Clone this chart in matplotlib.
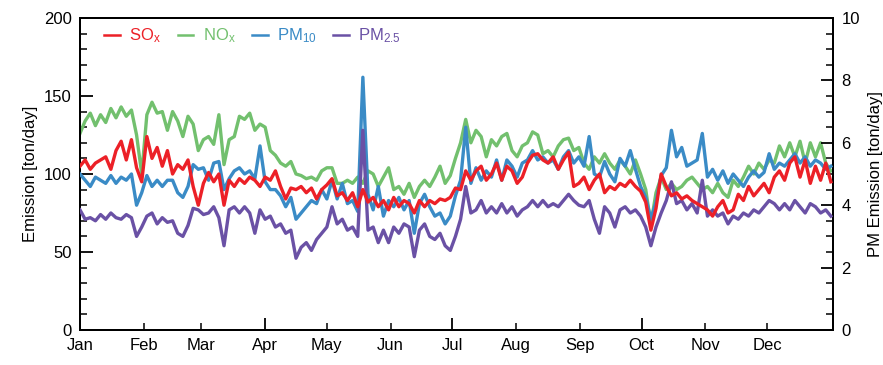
import numpy as np
import matplotlib.pyplot as plt
from matplotlib.ticker import MultipleLocator

plt.rcParams['font.family'] = ['Liberation Sans', 'DejaVu Sans']
plt.rcParams['mathtext.default'] = 'regular'

# daily emissions sampled every 2.5 days from 1 January
step = 2.5

sox = [105, 109, 103, 107, 109, 111, 103, 115, 121, 109, 122, 104, 95, 124, 110, 117, 105, 115, 100, 106,
       103, 109, 92, 80, 94, 101, 95, 100, 80, 96, 92, 97, 94, 98, 96, 92, 98, 96, 102, 92,
       84, 91, 90, 92, 88, 91, 84, 90, 93, 97, 86, 88, 83, 88, 79, 90, 82, 85, 79, 83,
       77, 85, 79, 83, 81, 75, 83, 79, 83, 81, 84, 83, 85, 91, 90, 102, 96, 102, 105, 96,
       100, 107, 96, 105, 102, 94, 98, 107, 112, 113, 109, 107, 111, 103, 109, 114, 92, 94, 98, 90,
       96, 100, 88, 92, 90, 94, 92, 96, 92, 89, 82, 64, 78, 100, 92, 86, 88, 84, 86, 83,
       81, 79, 77, 73, 79, 83, 75, 77, 87, 83, 92, 86, 90, 94, 88, 98, 102, 96, 107, 111,
       98, 109, 94, 105, 96, 107, 95]

nox = [126, 134, 139, 131, 138, 133, 142, 136, 143, 137, 141, 125, 100, 138, 146, 139, 140, 128, 140, 134,
       124, 137, 132, 115, 122, 124, 119, 138, 106, 122, 124, 137, 135, 139, 128, 132, 130, 115, 112, 107,
       105, 108, 100, 99, 97, 98, 96, 102, 104, 104, 94, 94, 96, 94, 98, 94, 102, 100, 92, 98,
       104, 90, 92, 87, 94, 85, 92, 96, 92, 98, 105, 94, 99, 110, 120, 135, 120, 128, 124, 111,
       122, 118, 124, 126, 115, 111, 118, 120, 127, 125, 113, 115, 111, 118, 122, 123, 115, 117, 107, 103,
       111, 107, 113, 107, 103, 109, 105, 100, 109, 100, 90, 68, 88, 98, 90, 94, 90, 92, 96, 98,
       94, 90, 92, 88, 94, 88, 85, 96, 92, 98, 105, 100, 107, 103, 109, 107, 118, 111, 120, 111,
       121, 107, 120, 111, 120, 107, 102]

pm10 = [5.00, 4.80, 4.60, 4.90, 4.80, 4.70, 4.95, 4.70, 4.90, 4.80, 5.00, 4.00, 4.40, 4.95, 4.60, 4.80, 4.60, 4.80, 4.80, 4.40,
        4.25, 4.60, 5.30, 5.15, 5.20, 4.80, 5.35, 5.40, 4.50, 4.85, 5.10, 5.20, 5.00, 5.10, 4.85, 5.90, 4.75, 4.50, 4.50, 4.30,
        3.95, 4.25, 3.55, 3.75, 3.95, 4.15, 4.05, 4.50, 4.20, 4.80, 4.20, 4.70, 4.05, 4.15, 3.80, 8.10, 4.35, 3.85, 4.60, 3.65,
        4.15, 3.95, 4.25, 3.85, 4.15, 3.10, 4.05, 4.35, 3.95, 3.65, 3.75, 3.40, 3.65, 4.30, 4.80, 6.50, 4.70, 5.20, 4.80, 5.10,
        4.90, 5.45, 4.80, 5.45, 5.25, 4.90, 5.35, 5.45, 5.75, 5.45, 5.55, 5.35, 5.45, 5.15, 5.55, 5.75, 5.35, 5.55, 5.25, 6.20,
        5.00, 4.90, 5.40, 5.00, 4.75, 5.50, 5.25, 5.75, 5.15, 4.60, 4.25, 3.55, 4.10, 4.95, 5.20, 6.40, 5.55, 5.85, 5.25, 5.35,
        5.45, 6.30, 4.90, 5.15, 4.80, 5.10, 4.70, 5.00, 4.80, 4.60, 4.90, 5.10, 4.90, 5.05, 5.65, 5.15, 5.35, 5.25, 5.45, 5.65,
        5.35, 5.55, 5.25, 5.45, 5.35, 5.15, 5.25]

pm25 = [3.85, 3.55, 3.60, 3.50, 3.70, 3.55, 3.75, 3.60, 3.55, 3.70, 3.60, 3.00, 3.30, 3.65, 3.75, 3.40, 3.60, 3.45, 3.50, 3.10,
        3.00, 3.35, 3.90, 3.85, 3.70, 3.75, 3.95, 3.60, 2.70, 3.85, 3.95, 3.75, 3.95, 3.75, 3.10, 3.85, 3.55, 3.65, 3.30, 3.40,
        3.10, 3.20, 2.30, 2.65, 2.80, 2.55, 2.90, 3.10, 3.30, 3.95, 3.40, 3.55, 3.20, 3.30, 3.00, 6.40, 3.20, 3.30, 2.80, 3.20,
        2.80, 3.30, 3.10, 3.40, 3.30, 2.35, 3.20, 3.40, 3.00, 2.90, 3.10, 2.70, 2.55, 3.00, 3.55, 4.60, 3.75, 3.85, 4.15, 3.75,
        3.95, 3.75, 4.05, 3.75, 3.95, 3.65, 3.85, 3.95, 4.15, 3.95, 4.15, 3.95, 4.05, 3.95, 4.15, 4.35, 4.15, 4.00, 3.95, 4.15,
        3.55, 3.10, 3.95, 3.75, 3.30, 3.85, 3.95, 3.75, 3.85, 3.65, 3.30, 2.70, 3.30, 3.75, 4.15, 4.75, 4.05, 4.15, 3.85, 4.05,
        3.75, 4.80, 3.65, 3.85, 3.65, 3.75, 3.40, 3.65, 3.55, 3.75, 3.65, 3.85, 3.75, 3.95, 4.15, 4.05, 3.85, 4.05, 3.85, 4.15,
        3.95, 3.75, 4.05, 3.95, 3.75, 3.85, 3.65]

months = ['Jan', 'Feb', 'Mar', 'Apr', 'May', 'Jun', 'Jul', 'Aug', 'Sep', 'Oct', 'Nov', 'Dec']
month_start = [0, 31, 59, 90, 120, 151, 181, 212, 243, 273, 304, 334]

c_sox = '#ec2027'
c_nox = '#72c06e'
c_pm10 = '#3a8bc6'
c_pm25 = '#6a51a5'

days = np.arange(len(sox)) * step

fig = plt.figure(figsize=(8.83, 3.65), dpi=100)
ax = fig.add_axes([0.0906, 0.0959, 0.8527, 0.8548])
ax2 = ax.twinx()

lw = 2.4
l_nox, = ax.plot(days, nox, color=c_nox, lw=lw, zorder=2)
l_pm10, = ax2.plot(days, pm10, color=c_pm10, lw=lw, zorder=3)
l_pm25, = ax2.plot(days, pm25, color=c_pm25, lw=lw, zorder=4)
# SOx goes on the PM axes so it sits on top, scaled back to ton/day
l_sox, = ax2.plot(days, np.array(sox) / 20.0, color=c_sox, lw=lw, zorder=5)

ax.set_xlim(0, 366)
ax.set_ylim(0, 200)
ax2.set_ylim(0, 10)

ax.yaxis.set_major_locator(MultipleLocator(50))
ax.yaxis.set_minor_locator(MultipleLocator(10))
ax2.yaxis.set_major_locator(MultipleLocator(2))
ax2.yaxis.set_minor_locator(MultipleLocator(0.5))

quarters = [0, 3, 6, 9]
ax.set_xticks([month_start[i] for i in quarters])
ax.set_xticklabels([months[i] for i in quarters])
others = [i for i in range(12) if i not in quarters]
ax.set_xticks([month_start[i] for i in others], minor=True)
ax.set_xticklabels([months[i] for i in others], minor=True)

for a in (ax, ax2):
    a.tick_params(which='major', direction='in', length=9, width=1.3, labelsize=12, pad=6)
    a.tick_params(which='minor', direction='in', length=5, width=1.1, labelsize=12, pad=6)
    for s in a.spines.values():
        s.set_linewidth(1.4)
ax.tick_params(axis='x', which='both', top=False)

ax.set_ylabel('Emission [ton/day]', fontsize=12, labelpad=4)
ax2.set_ylabel('PM Emission [ton/day]', fontsize=12, labelpad=6)

leg = ax2.legend([l_sox, l_nox, l_pm10, l_pm25],
                 ['SO$_x$', 'NO$_x$', 'PM$_{10}$', 'PM$_{2.5}$'],
                 loc='upper left', bbox_to_anchor=(0.012, 1.02), ncol=4, frameon=False,
                 fontsize=12, handlelength=0.95, handletextpad=0.55, columnspacing=1.0)
for line, text in zip(leg.get_lines(), leg.get_texts()):
    line.set_linewidth(1.8)
    text.set_color(line.get_color())

fig.savefig('out.png', dpi=100)
